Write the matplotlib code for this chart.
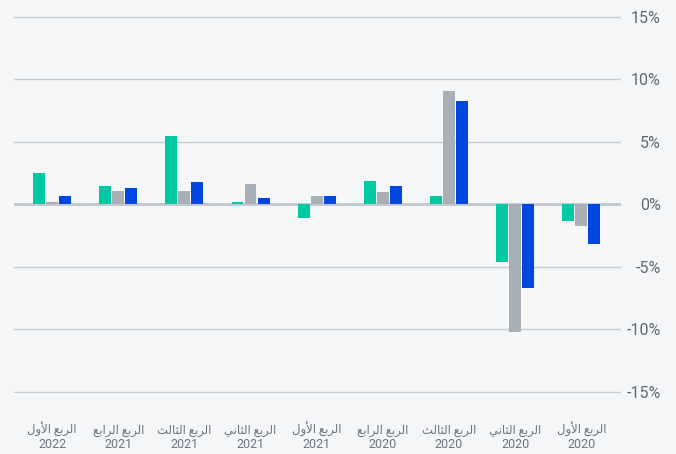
import matplotlib.pyplot as plt
import matplotlib.transforms as mtransforms
import numpy as np

# quarters, left to right as in the picture (newest first)
quarters = ["الربع الأول", "الربع الرابع", "الربع الثالث", "الربع الثاني", "الربع الأول",
            "الربع الرابع", "الربع الثالث", "الربع الثاني", "الربع الأول"]
years = ["2022", "2021", "2021", "2021", "2021", "2020", "2020", "2020", "2020"]

green_vals = [2.5, 1.45, 5.5, 0.15, -1.1, 1.9, 0.65, -4.6, -1.35]
gray_vals = [0.15, 1.1, 1.05, 1.6, 0.7, 0.95, 9.1, -10.2, -1.75]
blue_vals = [0.65, 1.3, 1.75, 0.5, 0.7, 1.5, 8.25, -6.7, -3.2]

yticks = [-15, -10, -5, 0, 5, 10, 15]

# --- tiny arabic shaper (matplotlib has no text shaping) ---
FORMS = {
    'ا': (0xFE8D, 0xFE8E, None, None),
    'أ': (0xFE83, 0xFE84, None, None),
    'ب': (0xFE8F, 0xFE90, 0xFE91, 0xFE92),
    'ث': (0xFE99, 0xFE9A, 0xFE9B, 0xFE9C),
    'ر': (0xFEAD, 0xFEAE, None, None),
    'ع': (0xFEC9, 0xFECA, 0xFECB, 0xFECC),
    'ل': (0xFEDD, 0xFEDE, 0xFEDF, 0xFEE0),
    'ن': (0xFEE5, 0xFEE6, 0xFEE7, 0xFEE8),
    'و': (0xFEED, 0xFEEE, None, None),
    'ي': (0xFEF1, 0xFEF2, 0xFEF3, 0xFEF4),
}
LAMALEF = {'ا': (0xFEFB, 0xFEFC), 'أ': (0xFEF7, 0xFEF8)}


def shape_word(w):
    # merge lam + alef into ligature tokens
    toks = []
    i = 0
    while i < len(w):
        if w[i] == 'ل' and i + 1 < len(w) and w[i + 1] in LAMALEF:
            toks.append(('LA', w[i + 1]))
            i += 2
        else:
            toks.append(('C', w[i]))
            i += 1

    def joins_next(t):
        return t[0] == 'C' and FORMS[t[1]][2] is not None

    out = []
    for k, t in enumerate(toks):
        prev_j = k > 0 and joins_next(toks[k - 1])
        if t[0] == 'LA':
            iso, fin = LAMALEF[t[1]]
            out.append(chr(fin if prev_j else iso))
            continue
        iso, fin, ini, med = FORMS[t[1]]
        next_j = k + 1 < len(toks) and ini is not None
        if prev_j and next_j:
            out.append(chr(med))
        elif prev_j:
            out.append(chr(fin))
        elif next_j:
            out.append(chr(ini))
        else:
            out.append(chr(iso))
    return ''.join(out)


def rtl(s):
    shaped = ' '.join(shape_word(w) for w in s.split(' '))
    return shaped[::-1]


plt.rcParams['font.family'] = ['Roboto', 'DejaVu Sans']

bg = '#f5f6f8'
fig = plt.figure(figsize=(6.76, 4.54), dpi=100, facecolor=bg)
ax = fig.add_axes([14 / 676, 61.5 / 454, 607 / 676, 376.3 / 454])
ax.set_facecolor(bg)

x = np.arange(len(quarters))
w = 0.18
step = 0.197
ax.bar(x - step, green_vals, w, color='#00c8a0', zorder=3)
ax.bar(x, gray_vals, w, color='#a8b0b6', zorder=3)
ax.bar(x + step, blue_vals, w, color='#0046e0', zorder=3)

ax.set_xlim(-0.575, 8.6)
ax.set_ylim(-15.04, 15.04)
ax.set_yticks(yticks)
ax.set_yticklabels([f"{v}%" for v in yticks])
ax.yaxis.tick_right()
ax.tick_params(axis='y', length=0, pad=28.8, labelsize=11.5, labelcolor='#5d6975')
for lab in ax.get_yticklabels():
    lab.set_horizontalalignment('right')

# category labels: two rows, drawn as separate texts so the rows line up
ax.set_xticks([])
trans = mtransforms.blended_transform_factory(ax.transData, fig.transFigure)
for xi, q, yr in zip(x, quarters, years):
    ax.text(xi, (454 - 434) / 454, rtl(q), transform=trans, ha='center',
            va='baseline', fontsize=8.4, color='#6b7480')
    ax.text(xi, (454 - 448) / 454, yr, transform=trans, ha='center',
            va='baseline', fontsize=9, color='#6b7480')

ax.grid(axis='y', color='#c6ccd2', lw=1, zorder=0)
ax.axhline(0, color='#c0c7ce', lw=2, zorder=2)
for s in ax.spines.values():
    s.set_visible(False)

fig.savefig('out.png', dpi=100, facecolor=bg)
